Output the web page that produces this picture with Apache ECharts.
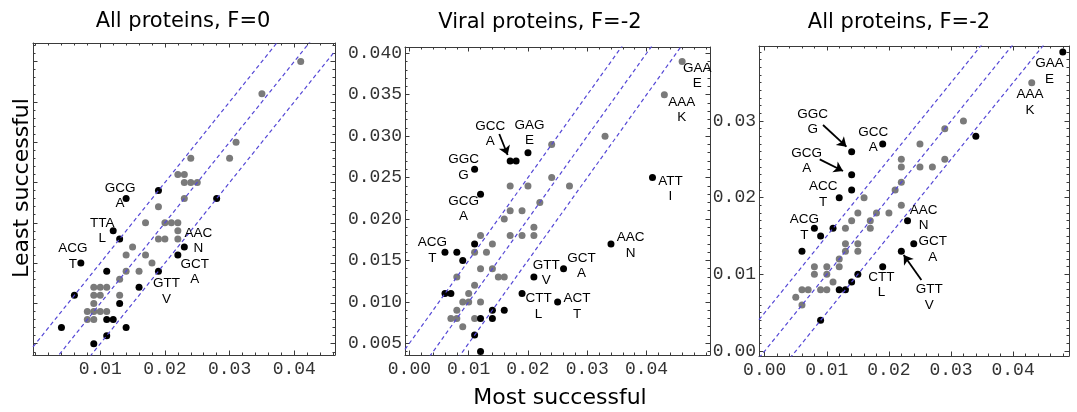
<!DOCTYPE html>
<html><head><meta charset="utf-8">
<script src="https://cdn.jsdelivr.net/npm/echarts@6/dist/echarts.min.js"></script>
<style>html,body{margin:0;padding:0;background:#fff}#c{width:1077px;height:412px}</style>
</head><body><div id="c"></div>
<script>
// ---------- DATA ----------
// Panel 1: All proteins, F=0
const p1Gray = [[0.041,0.040],[0.035,0.036],[0.031,0.030],[0.030,0.028],[0.024,0.028],[0.022,0.026],[0.023,0.026],[0.023,0.025],[0.024,0.025],[0.025,0.025],[0.023,0.023],[0.019,0.022],[0.017,0.020],[0.020,0.020],[0.021,0.020],[0.022,0.020],[0.022,0.019],[0.019,0.018],[0.020,0.018],[0.022,0.018],[0.015,0.017],[0.014,0.016],[0.017,0.016],[0.018,0.015],[0.014,0.014],[0.016,0.014],[0.013,0.013],[0.009,0.012],[0.010,0.012],[0.011,0.012],[0.009,0.011],[0.010,0.011],[0.013,0.011],[0.009,0.010],[0.008,0.009],[0.009,0.009],[0.010,0.009],[0.011,0.009],[0.008,0.008],[0.009,0.008]];
const p1Black = [[0.014,0.023],[0.019,0.024],[0.028,0.023],[0.012,0.019],[0.013,0.018],[0.023,0.017],[0.022,0.016],[0.007,0.015],[0.011,0.014],[0.019,0.014],[0.016,0.012],[0.006,0.011],[0.013,0.010],[0.011,0.008],[0.012,0.008],[0.004,0.007],[0.014,0.007],[0.011,0.006],[0.009,0.005]];
const p1Labels = [[0.014,0.023,'GCG','A'],[0.012,0.019,'TTA','L'],[0.007,0.015,'ACG','T'],[0.023,0.017,'AAC','N'],[0.022,0.016,'GCT','A'],[0.019,0.014,'GTT','V']];
const p1Arrows = [];
const p1XLabels = [0.01,0.02,0.03,0.04];
const p1YTicks = [0.005,0.010,0.015,0.020,0.025,0.030,0.035,0.040];

// Panel 2: Viral proteins, F=-2
const p2Gray = [[0.046,0.039],[0.043,0.035],[0.033,0.030],[0.024,0.029],[0.024,0.025],[0.017,0.024],[0.020,0.024],[0.027,0.024],[0.022,0.022],[0.017,0.021],[0.019,0.021],[0.016,0.020],[0.021,0.019],[0.012,0.018],[0.017,0.018],[0.019,0.018],[0.021,0.018],[0.014,0.017],[0.011,0.016],[0.013,0.016],[0.012,0.014],[0.014,0.014],[0.008,0.013],[0.015,0.013],[0.016,0.013],[0.011,0.012],[0.010,0.011],[0.009,0.010],[0.010,0.010],[0.012,0.010],[0.008,0.009],[0.007,0.008],[0.008,0.008],[0.011,0.008],[0.009,0.007]];
const p2Black = [[0.041,0.025],[0.034,0.017],[0.026,0.014],[0.021,0.013],[0.019,0.011],[0.025,0.010],[0.020,0.028],[0.017,0.027],[0.018,0.027],[0.011,0.026],[0.012,0.023],[0.006,0.016],[0.008,0.016],[0.009,0.015],[0.011,0.017],[0.006,0.011],[0.007,0.011],[0.012,0.008],[0.014,0.009],[0.014,0.008],[0.016,0.009],[0.011,0.006],[0.012,0.004]];
const p2Labels = [[0.017,0.027,'GCC','A'],[0.020,0.028,'GAG','E'],[0.011,0.026,'GGC','G'],[0.012,0.023,'GCG','A'],[0.006,0.016,'ACG','T'],[0.021,0.013,'GTT','V'],[0.026,0.014,'GCT','A'],[0.019,0.011,'CTT','L'],[0.025,0.010,'ACT','T'],[0.034,0.017,'AAC','N'],[0.041,0.025,'ATT','I'],[0.043,0.035,'AAA','K'],[0.046,0.039,'GAA','E']];
const p2Arrows = [[[0.01516,0.03026],[0.01658,0.02773]]];
const p2XLabels = [0.00,0.01,0.02,0.03,0.04];
const p2YLabels = [0.005,0.010,0.015,0.020,0.025,0.030,0.035,0.040];

// Panel 3: All proteins, F=-2
const p3Gray = [[0.043,0.035],[0.032,0.030],[0.029,0.029],[0.025,0.027],[0.022,0.025],[0.022,0.024],[0.025,0.024],[0.027,0.024],[0.029,0.025],[0.022,0.022],[0.021,0.021],[0.016,0.020],[0.022,0.019],[0.015,0.018],[0.018,0.018],[0.020,0.018],[0.014,0.017],[0.017,0.017],[0.013,0.016],[0.017,0.016],[0.013,0.014],[0.015,0.014],[0.013,0.013],[0.015,0.013],[0.012,0.012],[0.008,0.011],[0.010,0.011],[0.012,0.011],[0.008,0.010],[0.010,0.010],[0.011,0.009],[0.006,0.008],[0.007,0.008],[0.009,0.008],[0.010,0.008],[0.005,0.007],[0.006,0.006]];
const p3Black = [[0.048,0.039],[0.034,0.028],[0.019,0.027],[0.014,0.026],[0.014,0.023],[0.014,0.021],[0.012,0.020],[0.023,0.017],[0.008,0.016],[0.011,0.016],[0.009,0.015],[0.024,0.014],[0.006,0.013],[0.022,0.013],[0.019,0.011],[0.015,0.010],[0.014,0.009],[0.012,0.008],[0.013,0.008],[0.009,0.004]];
const p3Labels = [[0.048,0.039,'GAA','E'],[0.043,0.035,'AAA','K'],[0.014,0.026,'GGC','G'],[0.014,0.023,'GCG','A'],[0.019,0.027,'GCC','A'],[0.012,0.020,'ACC','T'],[0.008,0.016,'ACG','T'],[0.023,0.017,'AAC','N'],[0.024,0.014,'GCT','A'],[0.019,0.011,'CTT','L'],[0.022,0.013,'GTT','V']];
const p3Arrows = [[[0.00939,0.02948],[0.01316,0.02665]],[[0.00886,0.0250],[0.01261,0.02348]],[[0.02523,0.00926],[0.02238,0.01252]]];
const p3XLabels = [0.00,0.01,0.02,0.03,0.04];
const p3YLabels = [0.00,0.01,0.02,0.03];

const diagOffsets = [-0.005, 0, 0.005];
const titles = ['All proteins, F=0','Viral proteins, F=-2','All proteins, F=-2'];
const xName = 'Most successful';
const yName = 'Least successful';

// ---------- LAYOUT / STYLE ----------
function range(a,b,s){const r=[];for(let v=a;v<=b+1e-9;v+=s)r.push(+v.toFixed(4));return r;}
const p1Offs = [[-6,-3],[-11,0],[-8,-7],[14,-6],[17,17],[8,20]];
const p2Offs = [[-20,-27],[1.5,-20],[-11,-2],[-17,14.5],[-12.7,-1.7],[12.3,-4.3],[18,-3],[16.5,12.8],[19.4,4.5],[19.7,1.6],[18,11.3],[17.4,15],[15,14]];
const p3Offs = [[-13.3,19.4],[-1.7,19.8],[-39,-30],[-45,-14],[-9.5,-4],[-16,-3.5],[-10,-1],[16,-3],[19,5.5],[-1.3,18.3],[28,46]];

const panels = [
 {grid:{left:33,top:43,width:302,height:312}, x:[-0.0004,0.0463], y:[0.0036,0.0423],
  xMajor:p1XLabels, xMinor:range(0,0.046,0.002), xLab:p1XLabels, xDec:2,
  yMajor:p1YTicks, yMinor:range(0.004,0.042,0.001), yLab:[], yDec:3,
  gray:p1Gray, black:p1Black, labels:p1Labels, offs:p1Offs, arrows:p1Arrows},
 {grid:{left:405,top:47,width:305,height:308}, x:[-0.00074,0.0507], y:[0.00359,0.04076],
  xMajor:p2XLabels, xMinor:range(0,0.050,0.002), xLab:p2XLabels, xDec:2,
  yMajor:p2YLabels, yMinor:range(0.004,0.040,0.001), yLab:p2YLabels, yDec:3,
  gray:p2Gray, black:p2Black, labels:p2Labels, offs:p2Offs, arrows:p2Arrows},
 {grid:{left:759,top:46,width:310,height:310}, x:[-0.00092,0.0490], y:[-0.00065,0.03978],
  xMajor:p3XLabels, xMinor:range(0,0.048,0.002), xLab:p3XLabels, xDec:2,
  yMajor:p3YLabels, yMinor:range(0,0.039,0.001), yLab:p3YLabels, yDec:2,
  gray:p3Gray, black:p3Black, labels:p3Labels, offs:p3Offs, arrows:p3Arrows}
];

const FRAME = '#3a3a3a';
const tickFont = {fontFamily:'Liberation Mono', fontSize:18, color:'#333'};

function axis(gi, pos, min, max, vals, len, line, labVals, dec, isX){
  const a = {type:'value', gridIndex:gi, position:pos, min:min, max:max, scale:true,
    axisLine:{show:line, onZero:false, lineStyle:{color:FRAME, width:1}},
    axisTick:{show:true, inside:true, length:len, customValues:vals, lineStyle:{color:FRAME, width:1}},
    axisLabel:{show:false}, splitLine:{show:false}, splitArea:{show:false}};
  if (labVals && labVals.length) {
    a.axisLabel = Object.assign({show:true, customValues:labVals, margin:isX?5:3,
      formatter:(v)=>(+v).toFixed(dec)}, tickFont);
  }
  return a;
}

const xAxes=[], yAxes=[], grids=[], series=[];
panels.forEach((p,i)=>{
  grids.push(Object.assign({show:false, containLabel:false}, p.grid));
  xAxes.push(axis(i,'bottom',p.x[0],p.x[1],p.xMajor,4.5,true,p.xLab,p.xDec,true));
  xAxes.push(axis(i,'bottom',p.x[0],p.x[1],p.xMinor,2.5,false,null,0,true));
  xAxes.push(axis(i,'top',p.x[0],p.x[1],p.xMajor,4.5,true,null,0,true));
  xAxes.push(axis(i,'top',p.x[0],p.x[1],p.xMinor,2.5,false,null,0,true));
  yAxes.push(axis(i,'left',p.y[0],p.y[1],p.yMajor,4.5,true,p.yLab,p.yDec,false));
  yAxes.push(axis(i,'left',p.y[0],p.y[1],p.yMinor,2.5,false,null,0,false));
  yAxes.push(axis(i,'right',p.y[0],p.y[1],p.yMajor,4.5,true,null,0,false));
  yAxes.push(axis(i,'right',p.y[0],p.y[1],p.yMinor,2.5,false,null,0,false));
  const xi=i*4, yi=i*4;
  series.push({type:'scatter', xAxisIndex:xi, yAxisIndex:yi, data:p.gray, symbolSize:7,
    itemStyle:{color:'#7a7a7a', opacity:1}, z:2, silent:true});
  series.push({type:'scatter', xAxisIndex:xi, yAxisIndex:yi, data:p.black, symbolSize:7,
    itemStyle:{color:'#000', opacity:1}, z:2, silent:true});
  diagOffsets.forEach(off=>{
    series.push({type:'line', xAxisIndex:xi, yAxisIndex:yi, symbol:'none', clip:true, z:3, silent:true,
      data:[[p.x[0],p.x[0]+off],[p.x[1],p.x[1]+off]],
      lineStyle:{color:'#5548d6', width:1.2, type:[4,3]}});
  });
  series.push({type:'scatter', xAxisIndex:xi, yAxisIndex:yi, symbolSize:0.1, z:4, silent:true,
    itemStyle:{color:'rgba(0,0,0,0)', opacity:1},
    data:p.labels.map((l,k)=>({value:[l[0],l[1]],
      label:{show:true, position:'inside', formatter:l[2]+'\n'+l[3], offset:p.offs[k],
        align:'center', verticalAlign:'middle', fontFamily:'Liberation Sans', fontSize:13.5, lineHeight:15.5, color:'#000', opacity:1}})),
    markLine:{silent:true, symbol:['none','arrow'], symbolSize:9, animation:false,
      lineStyle:{color:'#000', width:1.8, type:'solid', opacity:1}, label:{show:false},
      data:p.arrows.map(a=>[{coord:a[0]},{coord:a[1]}])}
  });
});

const txt = (t,x,y,size,rot)=>({type:'text', x:x, y:y, rotation:rot||0,
  style:{text:t, fontFamily:'DejaVu Sans', fontSize:size, fill:'#000',
    align:'center', verticalAlign:'middle', textAlign:'center', textVerticalAlign:'middle'}});

const chart = echarts.init(document.getElementById('c'), null, {renderer:'canvas'});
chart.setOption({
  animation:false, backgroundColor:'#fff',
  grid:grids, xAxis:xAxes, yAxis:yAxes, series:series,
  graphic:[txt(titles[0],183,22,21), txt(titles[1],540,23,21), txt(titles[2],899,23,21),
           txt(xName,560,398,22), txt(yName,22,188,22,Math.PI/2)]
});
</script></body></html>
